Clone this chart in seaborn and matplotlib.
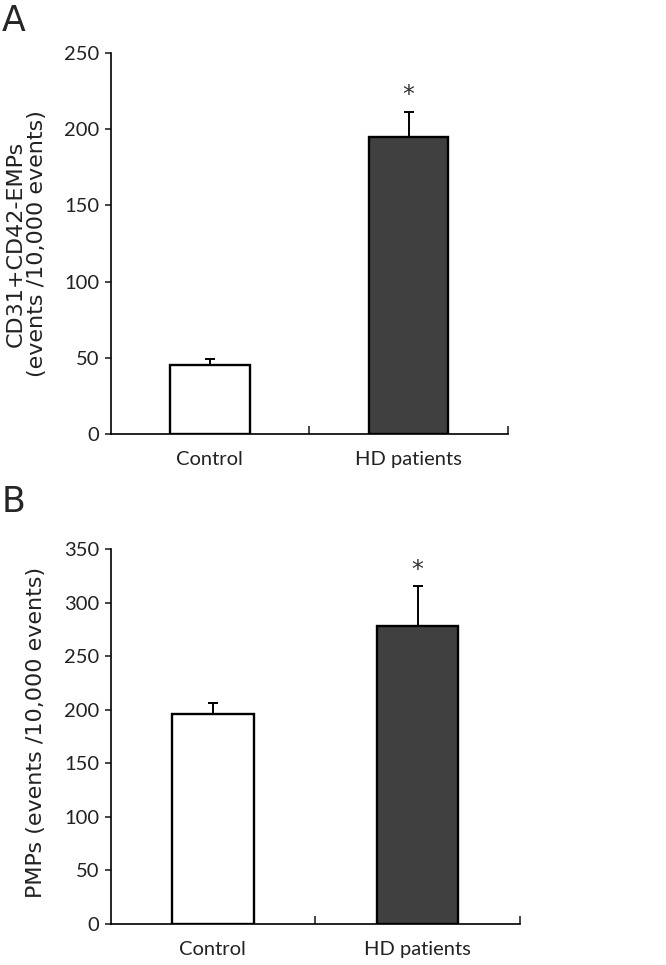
import numpy as np
import pandas as pd
import matplotlib
matplotlib.use("Agg")
import matplotlib.pyplot as plt
from matplotlib.ticker import FixedLocator
import seaborn as sns

# data
groups = ["Control", "HD patients"]
emp_means = [45, 195]
emp_err = [4, 16.5]
pmp_means = [196, 278]
pmp_err = [10, 37]
bar_colors = ["white", "#404040"]

sns.set_style("white")
plt.rcParams["font.family"] = ["Lato", "DejaVu Sans"]


def draw_panel(ax, means, errs, ymax, ylabel):
    df = pd.DataFrame({"group": groups, "value": means})
    sns.barplot(data=df, x="group", y="value", hue="group", palette=bar_colors,
                width=0.4, edgecolor="black", linewidth=1.7, legend=False,
                errorbar=None, ax=ax)
    # upper-only error bars
    ax.errorbar(np.arange(len(means)), means, yerr=[np.zeros(len(errs)), errs],
                fmt="none", ecolor="black", elinewidth=1.4, capsize=3.5,
                capthick=1.4, zorder=1)
    # significance star above the HD bar
    ax.text(1, means[1] + errs[1] + ymax * 0.045, "*", ha="center",
            va="center", fontsize=17, color="#333333",
            family=["DejaVu Sans"])

    ax.set_xlim(-0.5, 1.5)
    ax.set_ylim(0, ymax)
    ax.set_yticks(np.arange(0, ymax + 1, 50))
    ax.xaxis.set_minor_locator(FixedLocator([0.5, 1.5]))
    ax.tick_params(axis="x", which="major", length=0, pad=12, labelsize=14.5,
                   labelcolor="#222222")
    ax.tick_params(axis="x", which="minor", direction="in", length=6,
                   width=1.2, bottom=True)
    ax.tick_params(axis="y", direction="out", length=4, width=1.2, left=True,
                   labelsize=14.5, labelcolor="#222222", pad=4)
    for side in ["top", "right"]:
        ax.spines[side].set_visible(False)
    for side in ["left", "bottom"]:
        ax.spines[side].set_linewidth(1.2)
        ax.spines[side].set_color("black")
    ax.set_xlabel("")
    ax.set_ylabel(ylabel, fontsize=16, color="#222222", linespacing=1.1,
                  family=["DejaVu Sans"])
    return ax


fig = plt.figure(figsize=(6.66, 9.65), dpi=100)
ax_a = fig.add_axes([0.166, 0.5503, 0.5966, 0.3948])
ax_b = fig.add_axes([0.166, 0.0425, 0.6146, 0.3886])

draw_panel(ax_a, emp_means, emp_err, 250,
           "CD31+CD42-EMPs\n(events /10,000 events)")
draw_panel(ax_b, pmp_means, pmp_err, 350,
           "PMPs (events /10,000 events)")
ax_a.yaxis.set_label_coords(-0.16, 0.5)
ax_b.yaxis.set_label_coords(-0.158, 0.51)

fig.text(0.002, 0.996, "A", fontsize=25, va="top", ha="left",
         family=["DejaVu Sans"])
fig.text(0.002, 0.497, "B", fontsize=25, va="top", ha="left",
         family=["DejaVu Sans"])

fig.savefig("out.png", dpi=100)
